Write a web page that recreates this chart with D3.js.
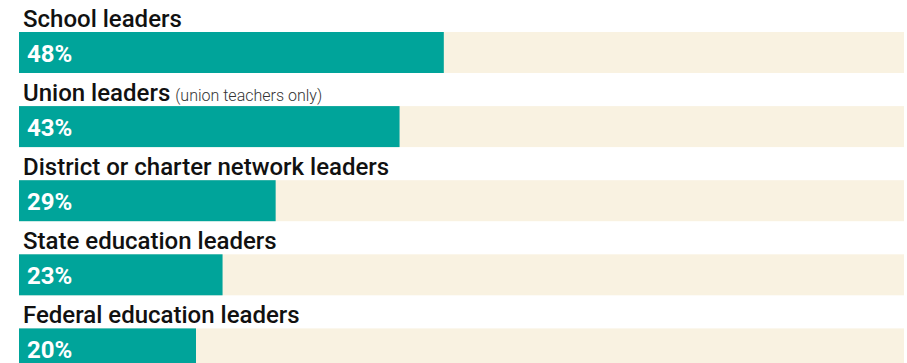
<!DOCTYPE html>
<html>
<head>
<meta charset="utf-8">
<script src="https://cdn.jsdelivr.net/npm/d3@7"></script>
<style>
  html, body { margin: 0; padding: 0; background: #fff; }
  svg { display: block; font-family: Roboto, "Noto Sans", sans-serif; }
</style>
</head>
<body>
<svg id="chart" width="907" height="363"></svg>
<script>
// Share of teachers who trust each group
const categories = [
  "School leaders",
  "Union leaders",
  "District or charter network leaders",
  "State education leaders",
  "Federal education leaders"
];
const notes = ["", "(union teachers only)", "", "", ""];
const values = [48, 43, 29, 23, 20];

const svg = d3.select("#chart");
const left = 19, right = 904;
const firstTop = 32, step = 74.1, barH = 41;

const x = d3.scaleLinear().domain([0, 100]).range([left, right]);
const y = d3.scaleLinear().domain([0, 1]).range([firstTop, firstTop + step]);

const rows = svg.selectAll("g.row")
  .data(categories.map((c, i) => ({ c, note: notes[i], v: values[i], i })))
  .join("g")
  .attr("class", "row")
  .attr("transform", d => `translate(0,${y(d.i)})`);

// background track
rows.append("rect")
  .attr("x", x(0))
  .attr("y", 0)
  .attr("width", x(100) - x(0))
  .attr("height", barH)
  .attr("fill", "#f9f2e1");

// value bar
rows.append("rect")
  .attr("x", x(0))
  .attr("y", 0)
  .attr("width", d => x(d.v) - x(0))
  .attr("height", barH)
  .attr("fill", "#00a49a");

// category label with optional note
const lab = rows.append("text")
  .attr("x", 23)
  .attr("y", -5)
  .attr("font-size", 24)
  .attr("font-weight", 500)
  .attr("fill", "#111");
lab.append("tspan").text(d => d.c);
lab.append("tspan")
  .attr("dx", 5)
  .attr("font-size", 16)
  .attr("font-weight", 300)
  .attr("fill", "#333")
  .text(d => d.note);

// value label
rows.append("text")
  .attr("x", 27)
  .attr("y", 29.5)
  .attr("font-size", 24)
  .attr("font-weight", 700)
  .attr("fill", "#fff")
  .text(d => d.v + "%");
</script>
</body>
</html>
